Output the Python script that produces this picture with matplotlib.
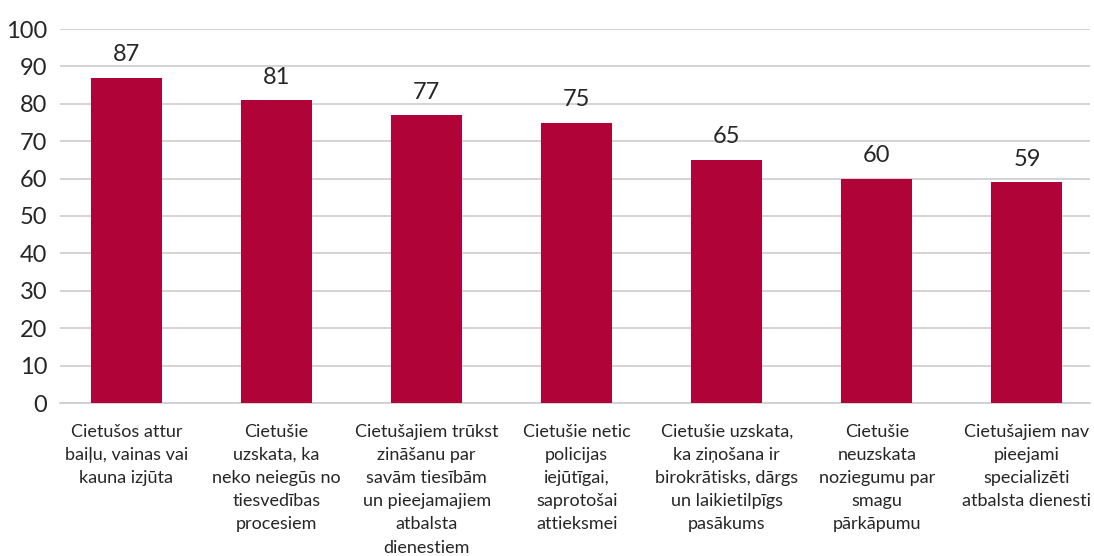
import numpy as np
import matplotlib.pyplot as plt

plt.rcParams['font.family'] = ['Lato', 'DejaVu Sans']

# data
categories = [
    "Cietušos attur\nbaiļu, vainas vai\nkauna izjūta",
    "Cietušie\nuzskata, ka\nneko neiegūs no\ntiesvedības\nprocesiem",
    "Cietušajiem trūkst\nzināšanu par\nsavām tiesībām\nun pieejamajiem\natbalsta\ndienestiem",
    "Cietušie netic\npolicijas\niejūtīgai,\nsaprotošai\nattieksmei",
    "Cietušie uzskata,\nka ziņošana ir\nbirokrātisks, dārgs\nun laikietilpīgs\npasākums",
    "Cietušie\nneuzskata\nnoziegumu par\nsmagu\npārkāpumu",
    "Cietušajiem nav\npieejami\nspecializēti\natbalsta dienesti",
]
values = [87, 81, 77, 75, 65, 60, 59]
yticks = [0, 10, 20, 30, 40, 50, 60, 70, 80, 90, 100]

bar_color = '#B00337'
grid_color = '#D0D0D0'
text_color = '#262626'

fig = plt.figure(figsize=(10.94, 5.56), dpi=100)
ax = fig.add_axes([60/1094, 1 - 403/556, 1030/1094, 374/556])

x = np.arange(len(categories))
ax.bar(x, values, width=0.473, color=bar_color, zorder=3)

for xi, v in zip(x, values):
    ax.annotate(str(v), (xi, v), xytext=(0, 9), textcoords='offset points',
                ha='center', va='bottom', fontsize=17, color=text_color)

ax.set_ylim(0, 100)
ax.set_xlim(-0.443, 6.42)
ax.set_yticks(yticks)
ax.set_yticklabels([str(t) for t in yticks], fontsize=17, color=text_color)
ax.set_xticks(x)
ax.set_xticklabels(categories, fontsize=13, color=text_color, linespacing=1.55)

ax.yaxis.grid(True, color=grid_color, linewidth=1.3, zorder=0)
ax.tick_params(axis='both', length=0)
ax.tick_params(axis='y', pad=9)
ax.tick_params(axis='x', pad=15)
for s in ['top', 'right', 'left']:
    ax.spines[s].set_visible(False)
ax.spines['bottom'].set_color(grid_color)
ax.spines['bottom'].set_linewidth(1.3)

fig.savefig('out.png', dpi=100)
